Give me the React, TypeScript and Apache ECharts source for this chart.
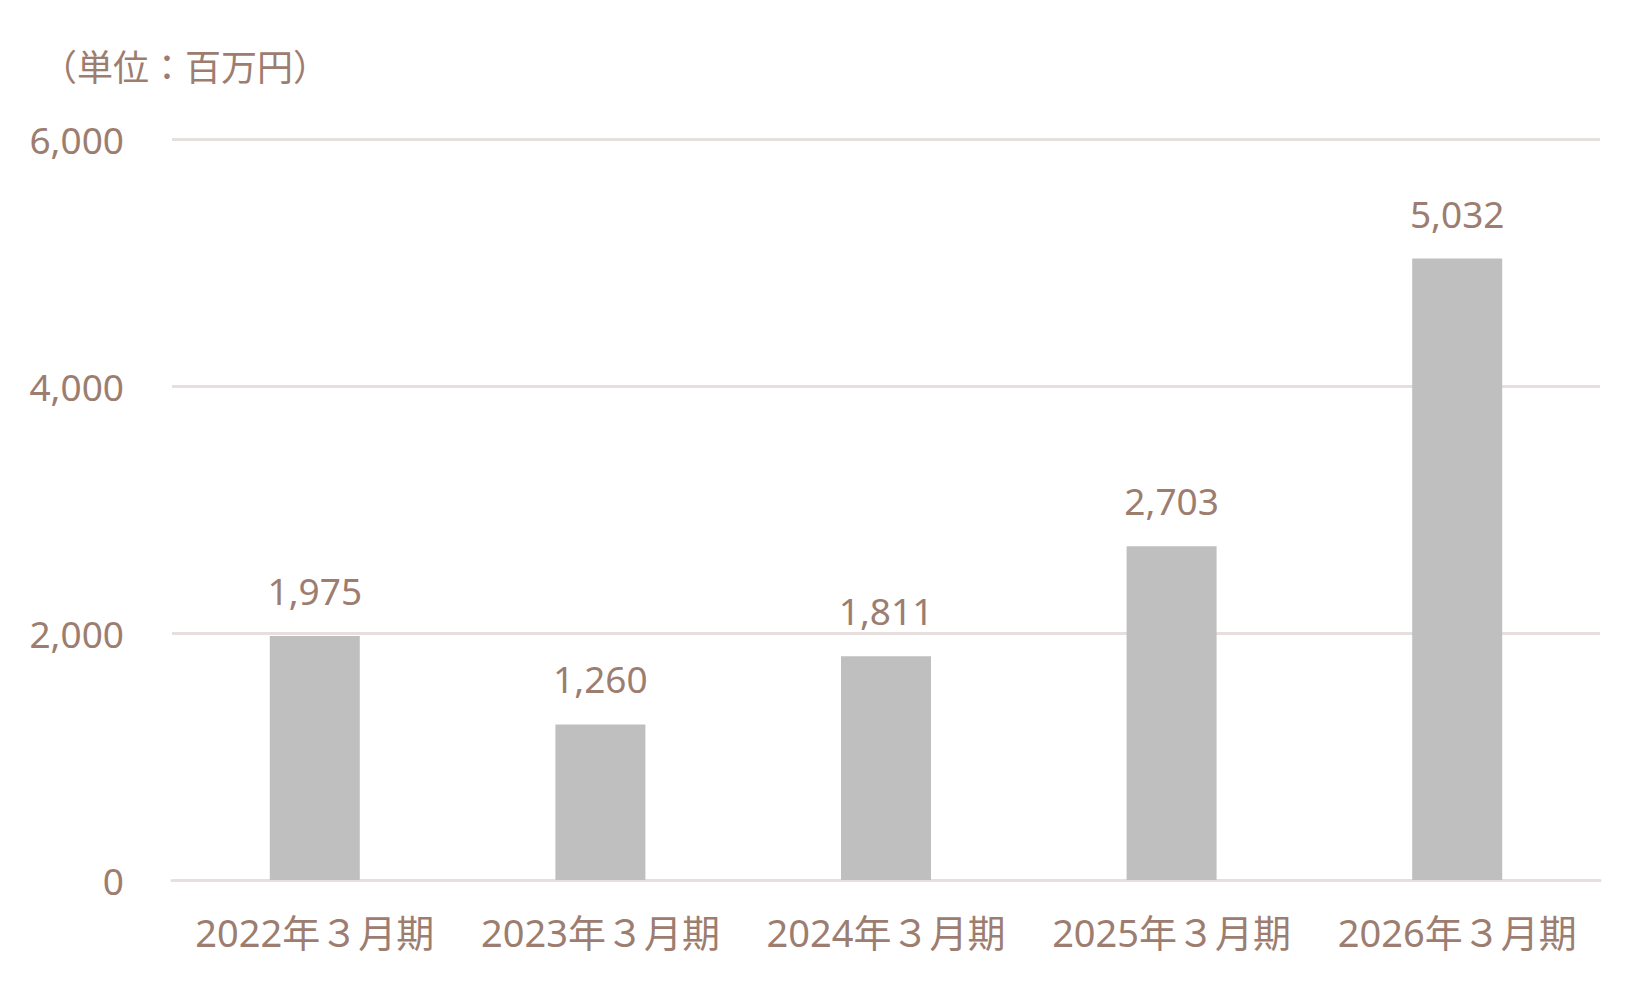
import React, { useEffect, useRef } from 'react';
import * as echarts from 'echarts';

const categories = ['2022年３月期', '2023年３月期', '2024年３月期', '2025年３月期', '2026年３月期'];
const values = [1975, 1260, 1811, 2703, 5032];
const unitLabel = '（単位：百万円）';

const TEXT_COLOR = '#9c7d70';
const FONT = "'Noto Sans', 'Noto Sans CJK JP', sans-serif";

const App: React.FC = () => {
  const chartRef = useRef<HTMLDivElement>(null);

  useEffect(() => {
    if (!chartRef.current) return;
    const chart = echarts.init(chartRef.current, undefined, { renderer: 'svg' });

    const option: echarts.EChartsOption = {
      animation: false,
      backgroundColor: '#ffffff',
      textStyle: { fontFamily: FONT },
      title: {
        text: unitLabel,
        left: 36,
        top: 44,
        textStyle: {
          fontFamily: FONT,
          fontSize: 36,
          fontWeight: 'normal',
          color: TEXT_COLOR
        }
      },
      grid: {
        left: 172,
        right: 50,
        top: 139,
        bottom: 110,
        containLabel: false
      },
      xAxis: {
        type: 'category',
        data: categories,
        axisLine: { lineStyle: { color: '#e6dfdd', width: 3 } },
        axisTick: { show: false },
        axisLabel: {
          interval: 0,
          color: TEXT_COLOR,
          fontSize: 38,
          fontFamily: FONT,
          margin: 33
        }
      },
      yAxis: {
        type: 'value',
        min: 0,
        max: 6000,
        interval: 2000,
        axisLine: { show: false },
        axisTick: { show: false },
        splitLine: { lineStyle: { color: '#e6dfdd', width: 3 } },
        axisLabel: {
          color: TEXT_COLOR,
          fontSize: 37,
          fontFamily: FONT,
          margin: 48,
          formatter: (v: number) => v.toLocaleString('en-US')
        }
      },
      series: [
        {
          type: 'bar',
          data: values,
          barWidth: 90,
          itemStyle: { color: '#bfbfbf' },
          label: {
            show: true,
            position: 'top',
            distance: 27,
            color: TEXT_COLOR,
            fontSize: 37,
            fontFamily: FONT,
            formatter: (p: any) => Number(p.value).toLocaleString('en-US')
          }
        }
      ]
    };

    chart.setOption(option);
    return () => {
      chart.dispose();
    };
  }, []);

  return (
    <div
      ref={chartRef}
      style={{ position: 'fixed', left: 0, top: 0, width: 1650, height: 990, background: '#fff' }}
    />
  );
};

export default App;
